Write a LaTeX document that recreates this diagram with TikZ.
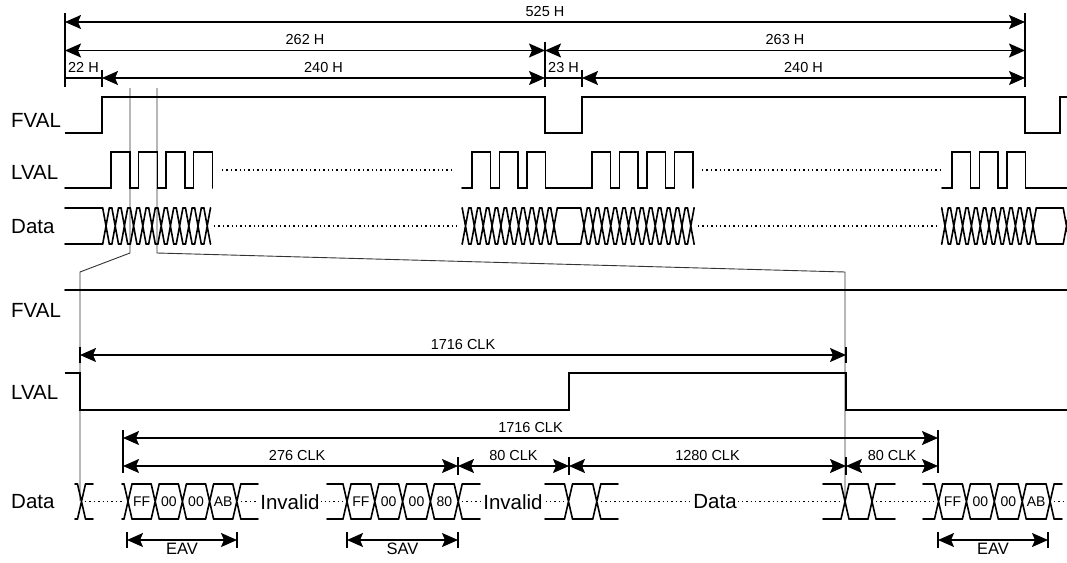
\documentclass[tikz,border=0pt]{standalone}
\usepackage{fontspec}
\setmainfont{Liberation Sans}
\usetikzlibrary{arrows.meta}
\definecolor{guideGray}{gray}{0.2}

% one run of a bus: start, first crossing, step, steps, end
\newcommand{\busrun}[5]{%
  \draw[sig] (#1,\btop) -- ({#2-\bt},\btop) (#1,\bbot) -- ({#2-\bt},\bbot);
  \foreach \k in {0,...,#4}{
    \pgfmathsetmacro{\xc}{#2+#3*\k}
    \draw[sig] ({\xc-\bt},\btop) -- ({\xc+\bt},\bbot) ({\xc-\bt},\bbot) -- ({\xc+\bt},\btop);
  }
  \ifnum#4>0
    \foreach \k in {1,...,#4}{
      \pgfmathsetmacro{\xa}{#2+#3*(\k-1)+\bt}
      \pgfmathsetmacro{\xb}{#2+#3*\k-\bt}
      \draw[sig] (\xa,\btop) -- (\xb,\btop) (\xa,\bbot) -- (\xb,\bbot);
    }
  \fi
  \pgfmathsetmacro{\xe}{#2+#3*#4+\bt}
  \draw[sig] (\xe,\btop) -- (#5,\btop) (\xe,\bbot) -- (#5,\bbot);
}

\begin{document}
\begin{tikzpicture}[x=1pt, y=-1pt,
    sig/.style={line width=1.6pt, line cap=round},
    guide/.style={line width=0.9pt, guideGray},
    tick/.style={line width=1.5pt},
    dim/.style={line width=1.6pt, {Stealth[length=16pt, width=14pt, inset=3pt]}-{Stealth[length=16pt, width=14pt, inset=3pt]}},
    dots/.style={line width=1.4pt, dash pattern=on 1.4pt off 3pt},
    siglbl/.style={font=\fontsize{20.5}{24}\selectfont, inner sep=0pt, anchor=west},
    dimlbl/.style={font=\fontsize{14.5}{17}\selectfont, inner sep=0pt},
    cell/.style={font=\fontsize{14}{16}\selectfont, inner sep=0pt},
    gap/.style={font=\fontsize{20.5}{24}\selectfont, inner sep=0pt, inner xsep=1.5pt, fill=white}]
  \useasboundingbox (0,0) rectangle (1067,562);

  % zoom guides
  \draw[guide] (130,88) -- (130,253) -- (80,272) -- (80,501);
  \draw[guide] (157,88) -- (157,253) -- (845,272) -- (845,501);

  % signal names
  \node[siglbl] (fvalA) at (11,120) {FVAL};
  \node[siglbl] (lvalA) at (11,172) {LVAL};
  \node[siglbl] (dataA) at (11,227) {Data};
  \node[siglbl] (fvalB) at (11,310) {FVAL};
  \node[siglbl] (lvalB) at (11,392) {LVAL};
  \node[siglbl] (dataB) at (11,502) {Data};

  % frame dimensions
  \draw[tick] (65,13) -- (65,87);
  \draw[tick] (1025,13) -- (1025,87);
  \draw[tick] (545,42) -- (545,87);
  \draw[tick] (102,70) -- (102,87);
  \draw[tick] (582,70) -- (582,87);
  \draw[dim] (65,22) -- (1025,22) node[dimlbl, midway, above=5pt] (h525) {525 H};
  \draw[dim] (65,50.5) -- (545,50.5) node[dimlbl, midway, above=5pt] (h262) {262 H};
  \draw[dim] (545,50.5) -- (1025,50.5) node[dimlbl, midway, above=5pt] (h263) {263 H};
  \draw[tick] (65,78) -- (102,78) node[dimlbl, midway, above=5pt] (h22) {22 H};
  \draw[dim] (102,78) -- (545,78) node[dimlbl, midway, above=5pt] (h240a) {240 H};
  \draw[tick] (545,78) -- (582,78) node[dimlbl, midway, above=5pt] (h23) {23 H};
  \draw[dim] (582,78) -- (1025,78) node[dimlbl, midway, above=5pt] (h240b) {240 H};

  % FVAL
  \draw[sig, line cap=butt] (65,133) -- (102,133) -- (102,97) -- (545,97) -- (545,133) -- (582,133)
    -- (582,97) -- (1025,97) -- (1025,133) -- (1060,133) -- (1060,97) -- (1067,97);

  % LVAL
  \draw[sig] (65,188) \foreach \x in {111,138.5,166,193.5}{ -- (\x,188) -- (\x,152) -- (\x+19,152) -- (\x+19,188)};
  \draw[sig] (462,188) \foreach \x in {472,499.5,527,592,619.5,647,674.5}{ -- (\x,188) -- (\x,152) -- (\x+18.5,152) -- (\x+18.5,188)};
  \draw[sig] (942,188) \foreach \x in {952,979.5,1007}{ -- (\x,188) -- (\x,152) -- (\x+18.5,152) -- (\x+18.5,188)} -- (1067,188);
  \draw[dots] (222,170) -- (455,170);
  \draw[dots] (702,170) -- (940,170);

  % Data
  \def\btop{208}\def\bbot{244}\def\bt{3.3}
  \busrun{65}{106}{9.2}{11}{210.5}
  \busrun{462.2}{465.5}{8.85}{10}{557.8}
  \busrun{557.8}{584}{8.9}{12}{694}
  \busrun{941.7}{945}{8.8}{10}{1036.3}
  \busrun{1036.3}{1066.5}{0}{0}{1070}
  \draw[dots] (214,226) -- (458,226);
  \draw[dots] (698,226) -- (938,226);

  % one line, enlarged
  \draw[sig] (65,290) -- (1067,290);
  \draw[sig, line cap=butt] (65,373) -- (80,373) -- (80,410) -- (569,410) -- (569,373) -- (846,373)
    -- (846,410) -- (1067,410);

  % line dimensions
  \draw[tick] (80,347) -- (80,363);
  \draw[tick] (846,347) -- (846,363);
  \draw[dim] (80,355) -- (846,355) node[dimlbl, midway, above=5pt] (clkA) {1716 CLK};
  \draw[tick] (123,430) -- (123,473);
  \draw[tick] (938,430) -- (938,473);
  \draw[tick] (458,457) -- (458,475);
  \draw[tick] (569,457) -- (569,475);
  \draw[tick] (846,457) -- (846,475);
  \draw[dim] (123,438) -- (938,438) node[dimlbl, midway, above=5pt] (clkB) {1716 CLK};
  \draw[dim] (123,466) -- (458,466) node[dimlbl, pos=0.52, above=5pt] (clk276) {276 CLK};
  \draw[dim] (458,466) -- (569,466) node[dimlbl, midway, above=5pt] (clk80a) {80 CLK};
  \draw[dim] (569,466) -- (846,466) node[dimlbl, midway, above=5pt] (clk1280) {1280 CLK};
  \draw[dim] (846,466) -- (938,466) node[dimlbl, midway, above=5pt] (clk80b) {80 CLK};

  % Data, enlarged
  \draw[dots] (85,501.5) -- (124,501.5);
  \draw[dots] (241,501.5) -- (343,501.5);
  \draw[dots] (462,501.5) -- (564,501.5);
  \draw[dots] (601,501.5) -- (841,501.5);
  \draw[dots] (876,501.5) -- (934,501.5);
  \draw[dots] (1054,501.5) -- (1067,501.5);
  \def\btop{484}\def\bbot{519}\def\bt{4}
  \busrun{75}{81.5}{0}{0}{93}
  \busrun{122}{128}{27.2}{4}{258}
  \busrun{327}{347}{27.8}{4}{480}
  \busrun{545}{568.5}{28.3}{1}{618}
  \busrun{823}{845}{27}{1}{895}
  \busrun{923}{938.5}{27.9}{4}{1062}
  \foreach \t [count=\i from 0] in {FF,00,00,AB}
    \node[cell] (eavA\i) at ({141.6+27.2*\i},502) {\t};
  \foreach \t [count=\i from 0] in {FF,00,00,80}
    \node[cell] (sav\i) at ({360.9+27.8*\i},502) {\t};
  \foreach \t [count=\i from 0] in {FF,00,00,AB}
    \node[cell] (eavB\i) at ({952.5+27.9*\i},502) {\t};
  \node[gap] (invA) at (290,502) {Invalid};
  \node[gap] (invB) at (513,502) {Invalid};
  \node[gap] (dataC) at (715,502) {Data};

  % EAV / SAV
  \foreach \x in {127,237,347,458,938,1048}
    \draw[tick] (\x,532) -- (\x,548);
  \draw[dim] (127,540) -- (237,540);
  \draw[dim] (347,540) -- (458,540);
  \draw[dim] (938,540) -- (1048,540);
  \node[dimlbl, font=\fontsize{16.5}{19}\selectfont, anchor=north] (eavA) at (182,543) {EAV};
  \node[dimlbl, font=\fontsize{16.5}{19}\selectfont, anchor=north] (sav) at (402.5,543) {SAV};
  \node[dimlbl, font=\fontsize{16.5}{19}\selectfont, anchor=north] (eavB) at (993,543) {EAV};
\end{tikzpicture}
\end{document}
